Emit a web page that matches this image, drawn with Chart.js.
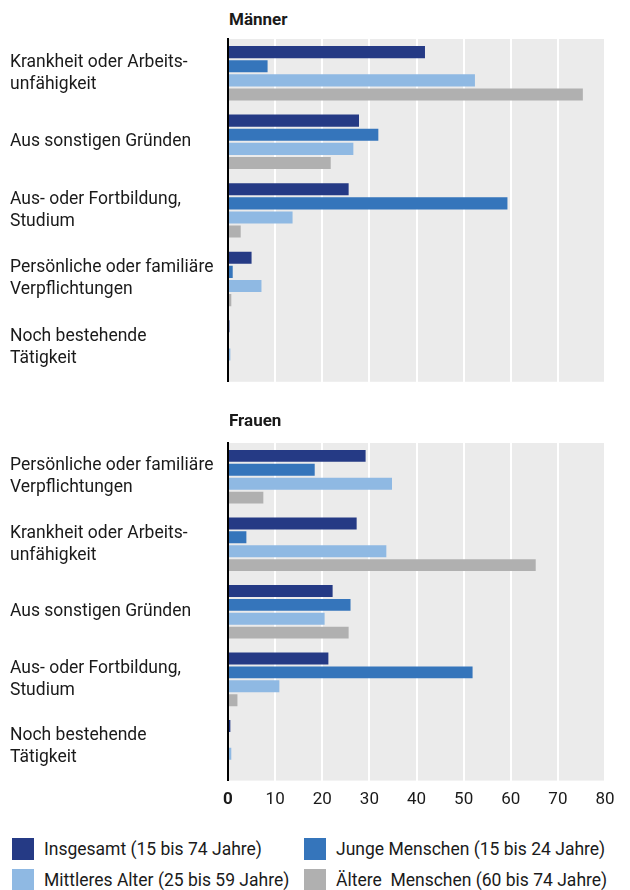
<!DOCTYPE html>
<html>
<head>
<meta charset="utf-8">
<script src="https://cdn.jsdelivr.net/npm/chart.js@4"></script>
<style>
  body { margin: 0; background: #fff; width: 630px; height: 890px; position: relative; overflow: hidden;
         font-family: Roboto, "Noto Sans", sans-serif; color: #1a1a1a; }
  .panel { position: absolute; left: 0; width: 630px; }
  .ttl { position: absolute; left: 229px; font-weight: bold; font-size: 17px; }
  .leg { position: absolute; font-size: 17.5px; display: flex; align-items: center; white-space: pre; }
  .leg span.box { display: inline-block; width: 22px; height: 22px; margin-right: 10px; }
</style>
</head>
<body>
<div class="ttl" style="top:9px">Männer</div>
<div class="panel" style="top:0;height:412px"><canvas id="men"></canvas></div>
<div class="ttl" style="top:410px">Frauen</div>
<div class="panel" style="top:400px;height:429px"><canvas id="women"></canvas></div>
<div id="legend"></div>
<script>
// Kategorien
var menLabels = [
  ['Krankheit oder Arbeits-', 'unfähigkeit'],
  'Aus sonstigen Gründen',
  ['Aus- oder Fortbildung,', 'Studium'],
  ['Persönliche oder familiäre', 'Verpflichtungen'],
  ['Noch bestehende', 'Tätigkeit']
];
var womenLabels = [
  ['Persönliche oder familiäre', 'Verpflichtungen'],
  ['Krankheit oder Arbeits-', 'unfähigkeit'],
  'Aus sonstigen Gründen',
  ['Aus- oder Fortbildung,', 'Studium'],
  ['Noch bestehende', 'Tätigkeit']
];
var seriesNames = ['Insgesamt (15 bis 74 Jahre)', 'Junge Menschen (15 bis 24 Jahre)',
                   'Mittleres Alter (25 bis 59 Jahre)', 'Ältere  Menschen (60 bis 74 Jahre)'];
var colors = ['#253a85', '#3575bb', '#8fb9e3', '#b0b0b0'];

// Werte in Prozent
var menTotal  = [41.8, 27.8, 25.6, 5.0, 0.3];
var menYoung  = [8.4, 31.9, 59.3, 1.0, 0];
var menMiddle = [52.4, 26.6, 13.7, 7.1, 0.5];
var menOld    = [75.3, 21.8, 2.7, 0.7, 0];

var womenTotal  = [29.2, 27.3, 22.2, 21.3, 0.5];
var womenYoung  = [18.4, 3.9, 26.0, 51.9, 0];
var womenMiddle = [34.8, 33.6, 20.5, 10.9, 0.7];
var womenOld    = [7.5, 65.3, 25.6, 2.0, 0];

var xTicks = [0, 10, 20, 30, 40, 50, 60, 70, 80];

var plotBg = {
  id: 'plotBg',
  beforeDraw: function(chart) {
    var a = chart.chartArea, c = chart.ctx;
    c.save();
    c.fillStyle = '#ebebeb';
    c.fillRect(a.left, a.top, a.right - a.left, a.bottom - a.top);
    c.restore();
  }
};

function makeChart(id, labels, vals, showTicks, pad) {
  var ds = [];
  for (var i = 0; i < 4; i++) {
    ds.push({ label: seriesNames[i], data: vals[i], backgroundColor: colors[i],
              barPercentage: 0.857, categoryPercentage: 0.824 });
  }
  return new Chart(document.getElementById(id), {
    type: 'bar',
    data: { labels: labels, datasets: ds },
    plugins: [plotBg],
    options: {
      indexAxis: 'y',
      responsive: true,
      maintainAspectRatio: false,
      animation: false,
      layout: { padding: pad },
      plugins: { legend: { display: false }, tooltip: { enabled: false } },
      scales: {
        x: {
          min: 0, max: 80,
          afterBuildTicks: function(axis) { axis.ticks = xTicks.map(function(v) { return { value: v }; }); },
          grid: { color: '#ffffff', lineWidth: 2, drawTicks: false },
          border: { display: false },
          ticks: {
            display: showTicks, padding: 9, color: '#1a1a1a',
            font: function(ctx) {
              return { family: 'Roboto', size: 17, weight: (ctx.tick && ctx.tick.value === 0) ? 'bold' : 'normal' };
            }
          }
        },
        y: {
          afterFit: function(axis) { axis.width = 218; },
          grid: { display: false },
          border: { display: true, color: '#000000', width: 2 },
          ticks: { crossAlign: 'far', padding: 8, color: '#1a1a1a',
                   font: { family: 'Roboto', size: 17.5, lineHeight: 1.27 } }
        }
      }
    }
  });
}

makeChart('men', menLabels, [menTotal, menYoung, menMiddle, menOld], false,
          { left: 10, right: 25, top: 39, bottom: 10 });
makeChart('women', womenLabels, [womenTotal, womenYoung, womenMiddle, womenOld], true,
          { left: 10, right: 25, top: 43, bottom: 10 });

// Legende
var legPos = [[12, 838], [304, 838], [12, 869], [304, 869]];
var leg = document.getElementById('legend');
seriesNames.forEach(function(n, i) {
  var d = document.createElement('div');
  d.className = 'leg';
  d.style.left = legPos[i][0] + 'px';
  d.style.top = legPos[i][1] + 'px';
  d.innerHTML = '<span class="box" style="background:' + colors[i] + '"></span>' + n;
  leg.appendChild(d);
});
</script>
</body>
</html>
